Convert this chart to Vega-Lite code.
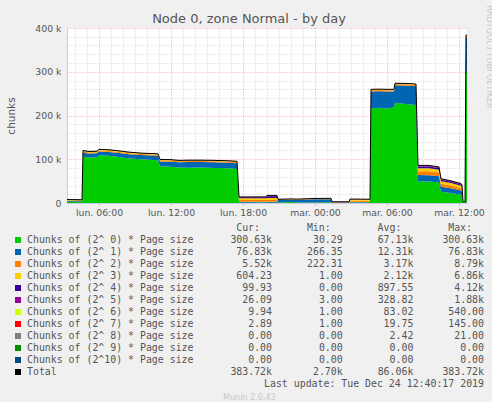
{
  "$schema": "https://vega.github.io/schema/vega-lite/v6.json",
  "background": "#f0f0f0",
  "padding": {"left": 6, "top": 5, "right": 0, "bottom": 0},
  "title": {
    "text": "Node 0, zone Normal - by day",
    "font": "DejaVu Sans",
    "fontSize": 13,
    "fontWeight": "normal",
    "color": "#555555",
    "anchor": "middle",
    "dy": 25
  },
  "datasets": {
    "chunks": [
      {"t": "2019-12-23T03:20:00Z", "c0": 3000, "c1": 1500, "c2": 1500, "c3": 1000, "c4": 500, "c5": 300, "c6": 100, "c7": 50},
      {"t": "2019-12-23T04:35:00Z", "c0": 2500, "c1": 1400, "c2": 1500, "c3": 1100, "c4": 500, "c5": 300, "c6": 100, "c7": 50},
      {"t": "2019-12-23T04:40:00Z", "c0": 106000, "c1": 9000, "c2": 2500, "c3": 2000, "c4": 300, "c5": 150, "c6": 50, "c7": 20},
      {"t": "2019-12-23T05:10:00Z", "c0": 104000, "c1": 9000, "c2": 2500, "c3": 1800, "c4": 300, "c5": 150, "c6": 50, "c7": 20},
      {"t": "2019-12-23T05:50:00Z", "c0": 104500, "c1": 9000, "c2": 2500, "c3": 1800, "c4": 300, "c5": 150, "c6": 50, "c7": 20},
      {"t": "2019-12-23T06:00:00Z", "c0": 109000, "c1": 8500, "c2": 2600, "c3": 2000, "c4": 300, "c5": 150, "c6": 50, "c7": 20},
      {"t": "2019-12-23T06:50:00Z", "c0": 108000, "c1": 8500, "c2": 2600, "c3": 2000, "c4": 300, "c5": 150, "c6": 50, "c7": 20},
      {"t": "2019-12-23T07:30:00Z", "c0": 106000, "c1": 8800, "c2": 2500, "c3": 1900, "c4": 300, "c5": 150, "c6": 50, "c7": 20},
      {"t": "2019-12-23T08:30:00Z", "c0": 102000, "c1": 9500, "c2": 2400, "c3": 1800, "c4": 300, "c5": 150, "c6": 50, "c7": 20},
      {"t": "2019-12-23T09:30:00Z", "c0": 100000, "c1": 9500, "c2": 2300, "c3": 1700, "c4": 300, "c5": 150, "c6": 50, "c7": 20},
      {"t": "2019-12-23T10:55:00Z", "c0": 98000, "c1": 10000, "c2": 2200, "c3": 1700, "c4": 300, "c5": 150, "c6": 50, "c7": 20},
      {"t": "2019-12-23T11:05:00Z", "c0": 84000, "c1": 11000, "c2": 2500, "c3": 1600, "c4": 300, "c5": 150, "c6": 50, "c7": 20},
      {"t": "2019-12-23T12:00:00Z", "c0": 83000, "c1": 11500, "c2": 2400, "c3": 1600, "c4": 300, "c5": 150, "c6": 50, "c7": 20},
      {"t": "2019-12-23T12:40:00Z", "c0": 81000, "c1": 12000, "c2": 2400, "c3": 1500, "c4": 300, "c5": 150, "c6": 50, "c7": 20},
      {"t": "2019-12-23T13:30:00Z", "c0": 80500, "c1": 13000, "c2": 2400, "c3": 1500, "c4": 300, "c5": 150, "c6": 50, "c7": 20},
      {"t": "2019-12-23T14:30:00Z", "c0": 81000, "c1": 12500, "c2": 2400, "c3": 1500, "c4": 300, "c5": 150, "c6": 50, "c7": 20},
      {"t": "2019-12-23T15:40:00Z", "c0": 80000, "c1": 13000, "c2": 2400, "c3": 1500, "c4": 300, "c5": 150, "c6": 50, "c7": 20},
      {"t": "2019-12-23T16:50:00Z", "c0": 79500, "c1": 12500, "c2": 2400, "c3": 1500, "c4": 300, "c5": 150, "c6": 50, "c7": 20},
      {"t": "2019-12-23T17:30:00Z", "c0": 78000, "c1": 13000, "c2": 2400, "c3": 1500, "c4": 300, "c5": 150, "c6": 50, "c7": 20},
      {"t": "2019-12-23T17:40:00Z", "c0": 800, "c1": 1800, "c2": 4200, "c3": 3800, "c4": 2300, "c5": 700, "c6": 200, "c7": 60},
      {"t": "2019-12-23T19:55:00Z", "c0": 900, "c1": 1800, "c2": 4200, "c3": 3800, "c4": 2300, "c5": 700, "c6": 200, "c7": 60},
      {"t": "2019-12-23T20:00:00Z", "c0": 800, "c1": 1800, "c2": 4500, "c3": 4500, "c4": 3700, "c5": 1500, "c6": 400, "c7": 100},
      {"t": "2019-12-23T20:50:00Z", "c0": 800, "c1": 1800, "c2": 4500, "c3": 4500, "c4": 3700, "c5": 1500, "c6": 400, "c7": 100},
      {"t": "2019-12-23T20:55:00Z", "c0": 1200, "c1": 5500, "c2": 900, "c3": 600, "c4": 200, "c5": 100, "c6": 30, "c7": 10},
      {"t": "2019-12-23T22:00:00Z", "c0": 2500, "c1": 5000, "c2": 900, "c3": 600, "c4": 200, "c5": 100, "c6": 30, "c7": 10},
      {"t": "2019-12-23T22:30:00Z", "c0": 1000, "c1": 6000, "c2": 900, "c3": 600, "c4": 200, "c5": 100, "c6": 30, "c7": 10},
      {"t": "2019-12-23T23:55:00Z", "c0": 1300, "c1": 7000, "c2": 1000, "c3": 700, "c4": 200, "c5": 100, "c6": 30, "c7": 10},
      {"t": "2019-12-24T01:20:00Z", "c0": 1500, "c1": 7200, "c2": 1000, "c3": 600, "c4": 200, "c5": 100, "c6": 30, "c7": 10},
      {"t": "2019-12-24T01:25:00Z", "c0": 30, "c1": 1300, "c2": 700, "c3": 400, "c4": 150, "c5": 80, "c6": 20, "c7": 10},
      {"t": "2019-12-24T02:50:00Z", "c0": 30, "c1": 1300, "c2": 700, "c3": 400, "c4": 150, "c5": 80, "c6": 20, "c7": 10},
      {"t": "2019-12-24T02:55:00Z", "c0": 1200, "c1": 1500, "c2": 2800, "c3": 2800, "c4": 500, "c5": 200, "c6": 50, "c7": 20},
      {"t": "2019-12-24T04:35:00Z", "c0": 1000, "c1": 1500, "c2": 2600, "c3": 2700, "c4": 500, "c5": 200, "c6": 50, "c7": 20},
      {"t": "2019-12-24T04:40:00Z", "c0": 216000, "c1": 39000, "c2": 2800, "c3": 1500, "c4": 300, "c5": 150, "c6": 50, "c7": 20},
      {"t": "2019-12-24T05:20:00Z", "c0": 218000, "c1": 37500, "c2": 2800, "c3": 1500, "c4": 300, "c5": 150, "c6": 50, "c7": 20},
      {"t": "2019-12-24T06:00:00Z", "c0": 216000, "c1": 39000, "c2": 2800, "c3": 1500, "c4": 300, "c5": 150, "c6": 50, "c7": 20},
      {"t": "2019-12-24T06:35:00Z", "c0": 219000, "c1": 36000, "c2": 2800, "c3": 1500, "c4": 300, "c5": 150, "c6": 50, "c7": 20},
      {"t": "2019-12-24T06:40:00Z", "c0": 229000, "c1": 40000, "c2": 2800, "c3": 1500, "c4": 300, "c5": 150, "c6": 50, "c7": 20},
      {"t": "2019-12-24T07:20:00Z", "c0": 227000, "c1": 41500, "c2": 2800, "c3": 1500, "c4": 300, "c5": 150, "c6": 50, "c7": 20},
      {"t": "2019-12-24T08:00:00Z", "c0": 225000, "c1": 43000, "c2": 2800, "c3": 1500, "c4": 300, "c5": 150, "c6": 50, "c7": 20},
      {"t": "2019-12-24T08:25:00Z", "c0": 224000, "c1": 43000, "c2": 2800, "c3": 1500, "c4": 300, "c5": 150, "c6": 50, "c7": 20},
      {"t": "2019-12-24T08:35:00Z", "c0": 50000, "c1": 14000, "c2": 8700, "c3": 6800, "c4": 4100, "c5": 1850, "c6": 500, "c7": 140},
      {"t": "2019-12-24T09:30:00Z", "c0": 49000, "c1": 14500, "c2": 8790, "c3": 6860, "c4": 4120, "c5": 1880, "c6": 540, "c7": 145},
      {"t": "2019-12-24T10:20:00Z", "c0": 47000, "c1": 14000, "c2": 8500, "c3": 6600, "c4": 4000, "c5": 1800, "c6": 500, "c7": 140},
      {"t": "2019-12-24T10:30:00Z", "c0": 26000, "c1": 11000, "c2": 7000, "c3": 5800, "c4": 3500, "c5": 1500, "c6": 400, "c7": 100},
      {"t": "2019-12-24T11:20:00Z", "c0": 23000, "c1": 10500, "c2": 6500, "c3": 5500, "c4": 3300, "c5": 1450, "c6": 350, "c7": 100},
      {"t": "2019-12-24T12:10:00Z", "c0": 19000, "c1": 9500, "c2": 6000, "c3": 5000, "c4": 3000, "c5": 1400, "c6": 300, "c7": 100},
      {"t": "2019-12-24T12:15:00Z", "c0": 17000, "c1": 9000, "c2": 5800, "c3": 4800, "c4": 2900, "c5": 1300, "c6": 300, "c7": 100},
      {"t": "2019-12-24T12:20:00Z", "c0": 30, "c1": 1300, "c2": 700, "c3": 400, "c4": 150, "c5": 80, "c6": 20, "c7": 10},
      {"t": "2019-12-24T12:30:00Z", "c0": 30, "c1": 1300, "c2": 700, "c3": 400, "c4": 150, "c5": 80, "c6": 20, "c7": 10},
      {"t": "2019-12-24T12:35:00Z", "c0": 300630, "c1": 76830, "c2": 5520, "c3": 604, "c4": 100, "c5": 26, "c6": 10, "c7": 3},
      {"t": "2019-12-24T12:40:00Z", "c0": 300630, "c1": 76830, "c2": 5520, "c3": 604, "c4": 100, "c5": 26, "c6": 10, "c7": 3}
    ],
    "legend": [
      {"i": 0, "key": "c0", "label": "Chunks of (2^ 0) * Page size", "Cur": "300.63k", "Min": "30.29\u00a0", "Avg": "67.13k", "Max": "300.63k"},
      {"i": 1, "key": "c1", "label": "Chunks of (2^ 1) * Page size", "Cur": "76.83k", "Min": "266.35\u00a0", "Avg": "12.31k", "Max": "76.83k"},
      {"i": 2, "key": "c2", "label": "Chunks of (2^ 2) * Page size", "Cur": "5.52k", "Min": "222.31\u00a0", "Avg": "3.17k", "Max": "8.79k"},
      {"i": 3, "key": "c3", "label": "Chunks of (2^ 3) * Page size", "Cur": "604.23\u00a0", "Min": "1.00\u00a0", "Avg": "2.12k", "Max": "6.86k"},
      {"i": 4, "key": "c4", "label": "Chunks of (2^ 4) * Page size", "Cur": "99.93\u00a0", "Min": "0.00\u00a0", "Avg": "897.55\u00a0", "Max": "4.12k"},
      {"i": 5, "key": "c5", "label": "Chunks of (2^ 5) * Page size", "Cur": "26.09\u00a0", "Min": "3.00\u00a0", "Avg": "328.82\u00a0", "Max": "1.88k"},
      {"i": 6, "key": "c6", "label": "Chunks of (2^ 6) * Page size", "Cur": "9.94\u00a0", "Min": "1.00\u00a0", "Avg": "83.02\u00a0", "Max": "540.00\u00a0"},
      {"i": 7, "key": "c7", "label": "Chunks of (2^ 7) * Page size", "Cur": "2.89\u00a0", "Min": "1.00\u00a0", "Avg": "19.75\u00a0", "Max": "145.00\u00a0"},
      {"i": 8, "key": "c8", "label": "Chunks of (2^ 8) * Page size", "Cur": "0.00\u00a0", "Min": "0.00\u00a0", "Avg": "2.42\u00a0", "Max": "21.00\u00a0"},
      {"i": 9, "key": "c9", "label": "Chunks of (2^ 9) * Page size", "Cur": "0.00\u00a0", "Min": "0.00\u00a0", "Avg": "0.00\u00a0", "Max": "0.00\u00a0"},
      {"i": 10, "key": "c10", "label": "Chunks of (2^10) * Page size", "Cur": "0.00\u00a0", "Min": "0.00\u00a0", "Avg": "0.00\u00a0", "Max": "0.00\u00a0"},
      {"i": 11, "key": "total", "label": "Total", "Cur": "383.72k", "Min": "2.70k", "Avg": "86.06k", "Max": "383.72k"}
    ]
  },
  "spacing": 4,
  "vconcat": [
    {
      "width": 400,
      "height": 175,
      "view": {"fill": "white", "stroke": null},
      "data": {"name": "chunks"},
      "transform": [
        {"fold": ["c0", "c1", "c2", "c3", "c4", "c5", "c6", "c7"], "as": ["key", "value"]}
      ],
      "layer": [
        {
          "mark": {"type": "area", "interpolate": "linear"},
          "encoding": {
            "x": {
              "field": "t",
              "type": "temporal",
              "scale": {
                "type": "utc",
                "domain": [
                  {"year": 2019, "month": 12, "date": 23, "hours": 3, "minutes": 20, "utc": true},
                  {"year": 2019, "month": 12, "date": 24, "hours": 12, "minutes": 40, "utc": true}
                ]
              },
              "axis": {
                "orient": "bottom",
                "title": null,
                "values": [
                  {"year": 2019, "month": 12, "date": 23, "hours": 6, "utc": true},
                  {"year": 2019, "month": 12, "date": 23, "hours": 12, "utc": true},
                  {"year": 2019, "month": 12, "date": 23, "hours": 18, "utc": true},
                  {"year": 2019, "month": 12, "date": 24, "hours": 0, "utc": true},
                  {"year": 2019, "month": 12, "date": 24, "hours": 6, "utc": true},
                  {"year": 2019, "month": 12, "date": 24, "hours": 12, "utc": true}
                ],
                "labelExpr": "['dim.','lun.','mar.','mer.','jeu.','ven.','sam.'][utcday(datum.value)] + ' ' + utcFormat(datum.value, '%H:%M')",
                "labelFlush": false,
                "labelOverlap": false,
                "labelPadding": 3,
                "grid": true,
                "gridColor": "#e8a0a0",
                "gridDash": [1, 2],
                "gridOpacity": 1,
                "domainColor": "#c8cce8",
                "tickColor": "#e8a0a0",
                "tickSize": 2,
                "zindex": 0
              }
            },
            "y": {
              "field": "value",
              "type": "quantitative",
              "stack": "zero",
              "scale": {"domain": [0, 400000], "nice": false},
              "axis": {
                "orient": "left",
                "title": "chunks",
                "titleFontSize": 10.5,
                "titlePadding": 6,
                "values": [0, 100000, 200000, 300000, 400000],
                "labelExpr": "datum.value == 0 ? '0' : format(datum.value / 1000, 'd') + ' k'",
                "labelPadding": 6,
                "minExtent": 45,
                "maxExtent": 45,
                "ticks": false,
                "grid": true,
                "gridColor": "#e8a0a0",
                "gridDash": [1, 2],
                "gridOpacity": 1,
                "domainColor": "#c8cce8",
                "zindex": 0
              }
            },
            "color": {
              "field": "key",
              "type": "nominal",
              "scale": {
                "domain": ["c0", "c1", "c2", "c3", "c4", "c5", "c6", "c7", "c8", "c9", "c10", "total"],
                "range": ["#00cc00", "#0066b3", "#ff8000", "#ffcc00", "#330099", "#990099", "#ccff00", "#ff0000", "#808080", "#008f00", "#00487d", "#000000"]
              },
              "legend": null
            },
            "order": {"field": "key", "sort": "ascending"}
          }
        },
        {
          "mark": {"type": "line", "color": "#000000", "strokeWidth": 1, "interpolate": "linear"},
          "encoding": {
            "x": {
              "field": "t",
              "type": "temporal",
              "axis": {
                "orient": "top",
                "title": null,
                "labels": false,
                "ticks": false,
                "domain": false,
                "values": [
                  {"year": 2019, "month": 12, "date": 23, "hours": 4, "utc": true},
                  {"year": 2019, "month": 12, "date": 23, "hours": 5, "utc": true},
                  {"year": 2019, "month": 12, "date": 23, "hours": 7, "utc": true},
                  {"year": 2019, "month": 12, "date": 23, "hours": 8, "utc": true},
                  {"year": 2019, "month": 12, "date": 23, "hours": 9, "utc": true},
                  {"year": 2019, "month": 12, "date": 23, "hours": 10, "utc": true},
                  {"year": 2019, "month": 12, "date": 23, "hours": 11, "utc": true},
                  {"year": 2019, "month": 12, "date": 23, "hours": 13, "utc": true},
                  {"year": 2019, "month": 12, "date": 23, "hours": 14, "utc": true},
                  {"year": 2019, "month": 12, "date": 23, "hours": 15, "utc": true},
                  {"year": 2019, "month": 12, "date": 23, "hours": 16, "utc": true},
                  {"year": 2019, "month": 12, "date": 23, "hours": 17, "utc": true},
                  {"year": 2019, "month": 12, "date": 23, "hours": 19, "utc": true},
                  {"year": 2019, "month": 12, "date": 23, "hours": 20, "utc": true},
                  {"year": 2019, "month": 12, "date": 23, "hours": 21, "utc": true},
                  {"year": 2019, "month": 12, "date": 23, "hours": 22, "utc": true},
                  {"year": 2019, "month": 12, "date": 23, "hours": 23, "utc": true},
                  {"year": 2019, "month": 12, "date": 24, "hours": 1, "utc": true},
                  {"year": 2019, "month": 12, "date": 24, "hours": 2, "utc": true},
                  {"year": 2019, "month": 12, "date": 24, "hours": 3, "utc": true},
                  {"year": 2019, "month": 12, "date": 24, "hours": 4, "utc": true},
                  {"year": 2019, "month": 12, "date": 24, "hours": 5, "utc": true},
                  {"year": 2019, "month": 12, "date": 24, "hours": 7, "utc": true},
                  {"year": 2019, "month": 12, "date": 24, "hours": 8, "utc": true},
                  {"year": 2019, "month": 12, "date": 24, "hours": 9, "utc": true},
                  {"year": 2019, "month": 12, "date": 24, "hours": 10, "utc": true},
                  {"year": 2019, "month": 12, "date": 24, "hours": 11, "utc": true}
                ],
                "grid": true,
                "gridColor": "#d0d0d0",
                "gridDash": [1, 2],
                "gridOpacity": 1,
                "zindex": 0
              }
            },
            "y": {
              "aggregate": "sum",
              "field": "value",
              "type": "quantitative",
              "axis": {
                "orient": "right",
                "title": "RRDTOOL / TOBI OETIKER",
                "titleAngle": 90,
                "titleFontSize": 8,
                "titleColor": "#c8c8c8",
                "titleAlign": "left",
                "titleBaseline": "middle",
                "titleX": 21,
                "titleY": -23,
                "labels": false,
                "ticks": false,
                "domain": false,
                "values": [20000, 40000, 60000, 80000, 120000, 140000, 160000, 180000, 220000, 240000, 260000, 280000, 320000, 340000, 360000, 380000],
                "grid": true,
                "gridColor": "#d0d0d0",
                "gridDash": [1, 2],
                "gridOpacity": 1,
                "zindex": 0
              }
            }
          }
        }
      ],
      "resolve": {"axis": {"x": "independent", "y": "independent"}}
    },
    {
      "width": 365,
      "height": 168,
      "view": {"fill": null, "stroke": null},
      "title": {
        "text": "Munin 2.0.43",
        "orient": "bottom",
        "anchor": "middle",
        "frame": "group",
        "font": "DejaVu Sans",
        "fontSize": 8,
        "fontWeight": "normal",
        "color": "#c8c8c8",
        "offset": 4
      },
      "layer": [
        {
          "data": {"name": "legend"},
          "mark": {"type": "square", "size": 36, "filled": true, "opacity": 1},
          "encoding": {
            "x": {"datum": "sq", "type": "nominal", "scale": {"type": "point", "domain": ["sq", "lab"], "range": [-49, -40], "padding": 0}, "axis": null},
            "y": {"field": "i", "type": "quantitative", "scale": {"domain": [-1.5, 12.5], "reverse": true, "nice": false, "zero": false}, "axis": null},
            "color": {
              "field": "key",
              "type": "nominal",
              "scale": {
                "domain": ["c0", "c1", "c2", "c3", "c4", "c5", "c6", "c7", "c8", "c9", "c10", "total"],
                "range": ["#00cc00", "#0066b3", "#ff8000", "#ffcc00", "#330099", "#990099", "#ccff00", "#ff0000", "#808080", "#008f00", "#00487d", "#000000"]
              },
              "legend": null
            }
          }
        },
        {
          "data": {"name": "legend"},
          "mark": {"type": "text", "align": "left", "baseline": "middle", "font": "DejaVu Sans Mono", "fontSize": 9.9, "color": "#555555"},
          "encoding": {
            "x": {"datum": "lab", "type": "nominal", "scale": {"type": "point", "domain": ["sq", "lab"], "range": [-49, -40], "padding": 0}, "axis": null},
            "y": {"field": "i", "type": "quantitative", "axis": null},
            "text": {"field": "label"}
          }
        },
        {
          "data": {"name": "legend"},
          "transform": [{"fold": ["Cur", "Min", "Avg", "Max"], "as": ["col", "txt"]}],
          "mark": {"type": "text", "align": "right", "baseline": "middle", "font": "DejaVu Sans Mono", "fontSize": 9.9, "color": "#555555"},
          "encoding": {
            "x": {"field": "col", "type": "nominal", "scale": {"type": "point", "domain": ["Cur", "Min", "Avg", "Max"], "range": [205, 417], "padding": 0}, "axis": null},
            "y": {"field": "i", "type": "quantitative", "axis": null},
            "text": {"field": "txt"}
          }
        },
        {
          "data": {"values": [
            {"col": "Cur", "h": "Cur:"},
            {"col": "Min", "h": "Min:"},
            {"col": "Avg", "h": "Avg:"},
            {"col": "Max", "h": "Max:"}
          ]},
          "mark": {"type": "text", "align": "right", "baseline": "middle", "dx": -12, "font": "DejaVu Sans Mono", "fontSize": 9.9, "color": "#555555"},
          "encoding": {
            "x": {"field": "col", "type": "nominal", "scale": {"type": "point", "domain": ["Cur", "Min", "Avg", "Max"], "range": [205, 417], "padding": 0}, "axis": null},
            "y": {"datum": -1, "type": "quantitative", "axis": null},
            "text": {"field": "h"}
          }
        },
        {
          "data": {"values": [
            {"col": "Max", "note": "Last update: Tue Dec 24 12:40:17 2019"}
          ]},
          "mark": {"type": "text", "align": "right", "baseline": "middle", "font": "DejaVu Sans Mono", "fontSize": 9.9, "color": "#555555"},
          "encoding": {
            "x": {"field": "col", "type": "nominal", "scale": {"type": "point", "domain": ["Cur", "Min", "Avg", "Max"], "range": [205, 417], "padding": 0}, "axis": null},
            "y": {"datum": 12, "type": "quantitative", "axis": null},
            "text": {"field": "note"}
          }
        }
      ],
      "resolve": {"scale": {"x": "independent"}}
    }
  ],
  "config": {
    "view": {"stroke": null},
    "axis": {
      "labelFont": "DejaVu Sans",
      "labelFontSize": 9.33,
      "labelColor": "#555555",
      "titleFont": "DejaVu Sans",
      "titleColor": "#555555",
      "titleFontWeight": "normal"
    }
  }
}
